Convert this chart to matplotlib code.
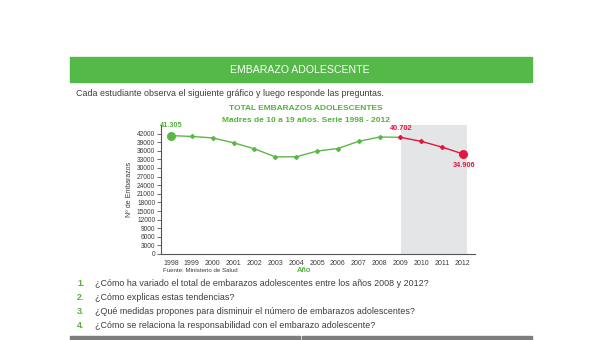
import matplotlib
matplotlib.use("Agg")
import matplotlib.pyplot as plt
from matplotlib.patches import Rectangle

years = [1998, 1999, 2000, 2001, 2002, 2003, 2004, 2005, 2006, 2007, 2008, 2009, 2010, 2011, 2012]
values = [41305, 41000, 40500, 38800, 36700, 33900, 33900, 35900, 36800, 39300, 40800, 40702, 39300, 37300, 34906]
yticks = list(range(0, 42001, 3000))
questions = [
    "¿Cómo ha variado el total de embarazos adolescentes entre los años 2008 y 2012?",
    "¿Cómo explicas estas tendencias?",
    "¿Qué medidas propones para disminuir el número de embarazos adolescentes?",
    "¿Cómo se relaciona la responsabilidad con el embarazo adolescente?",
]

FONT = ['Liberation Sans', 'DejaVu Sans']
plt.rcParams['font.family'] = FONT

GREEN = '#5cb846'
GREEN_T = '#55b23c'
RED = '#e3173e'
DARK = '#3c3c3c'

W, H = 600, 340
fig = plt.figure(figsize=(6, 3.4), dpi=100)
fig.patch.set_facecolor('white')

def fx(x):
    return x / W

def fy(y):
    return 1 - y / H

# banner
fig.patches.append(Rectangle((fx(70), fy(82)), fx(532) - fx(70), (82 - 57) / H,
                             transform=fig.transFigure, color='#54b948', zorder=0))
fig.text(fx(300), fy(70), "EMBARAZO ADOLESCENTE", color='white', fontsize=7.6,
         ha='center', va='center')
fig.text(fx(76), fy(93), "Cada estudiante observa el siguiente gráfico y luego responde las preguntas.",
         color=DARK, fontsize=6.4, ha='left', va='center')

fig.text(fx(306), fy(109), "TOTAL EMBARAZOS ADOLESCENTES", color=GREEN_T, fontsize=6.0,
         ha='center', va='center', fontweight='bold')
fig.text(fx(306), fy(120), "Madres de 10 a 19 años. Serie 1998 - 2012", color=GREEN_T, fontsize=6.0,
         ha='center', va='center', fontweight='bold')

# axes
ax_l, ax_r, ax_b, ax_t = 161, 475, 254, 125
ax = fig.add_axes([fx(ax_l), fy(ax_b), (ax_r - ax_l) / W, (ax_b - ax_t) / H])
ax.set_xlim(1997.52, 2012.58)
ax.set_ylim(0, 45000)
ax.axvspan(2009.05, 2012.2, color='#e4e5e7', zorder=0, lw=0)

split = years.index(2009)
ax.plot(years[:split + 1], values[:split + 1], color=GREEN, lw=1.0, zorder=2)
ax.plot(years[split:], values[split:], color=RED, lw=1.0, zorder=2)
ax.scatter(years[1:split], values[1:split], s=4, color=GREEN, zorder=3, marker='D')
ax.scatter(years[split:-1], values[split:-1], s=4, color=RED, zorder=3, marker='D')
ax.scatter([years[0]], [values[0]], s=30, color=GREEN, zorder=4)
ax.scatter([years[-1]], [values[-1]], s=30, color=RED, zorder=4)

def fmt(v):
    return f"{v:,}".replace(",", ".")

ax.annotate(fmt(values[0]), (years[0], values[0]), xytext=(0.5, 4.5), textcoords='offset points',
            ha='center', va='bottom', color=GREEN_T, fontsize=5.3, fontweight='bold')
ax.annotate(fmt(values[split]), (years[split], values[split]), xytext=(0.5, 4), textcoords='offset points',
            ha='center', va='bottom', color=RED, fontsize=5.3, fontweight='bold')
ax.annotate(fmt(values[-1]), (years[-1], values[-1]), xytext=(1, -6), textcoords='offset points',
            ha='center', va='top', color=RED, fontsize=5.3, fontweight='bold')

ax.set_yticks(yticks)
ax.set_yticklabels([str(v) for v in yticks], fontsize=4.8, color=DARK)
ax.set_xticks(years)
ax.set_xticklabels([str(y) for y in years], fontsize=5, color=DARK)
ax.tick_params(axis='y', length=3, width=0.6, color='#555555', pad=1.2)
ax.tick_params(axis='x', length=0, pad=4)
for s in ['top', 'right']:
    ax.spines[s].set_visible(False)
for s in ['left', 'bottom']:
    ax.spines[s].set_color('#555555')
    ax.spines[s].set_linewidth(0.8)
ax.set_facecolor('none')
ax.set_ylabel("Nº de Embarazos", fontsize=5, color=DARK, labelpad=3)

fig.text(fx(163), fy(270), "Fuente: Ministerio de Salud", color=DARK, fontsize=4.4,
         ha='left', va='center')
fig.text(fx(304), fy(270), "Año", color=GREEN_T, fontsize=5.3, ha='center', va='center',
         fontweight='bold')

qy = [284, 297, 312, 326]
for i, (q, y) in enumerate(zip(questions, qy)):
    fig.text(fx(77), fy(y), f"{i + 1}.", color=GREEN_T, fontsize=6.4, ha='left', va='center',
             fontweight='bold')
    fig.text(fx(95), fy(y), q, color=DARK, fontsize=6.4, ha='left', va='center')

fig.patches.append(Rectangle((fx(70), 0), fx(300) - fx(70), (340 - 336) / H,
                             transform=fig.transFigure, color='#7d7d7d', zorder=0))
fig.patches.append(Rectangle((fx(302), 0), fx(532) - fx(302), (340 - 336) / H,
                             transform=fig.transFigure, color='#7d7d7d', zorder=0))

fig.savefig("out.png", dpi=100)
